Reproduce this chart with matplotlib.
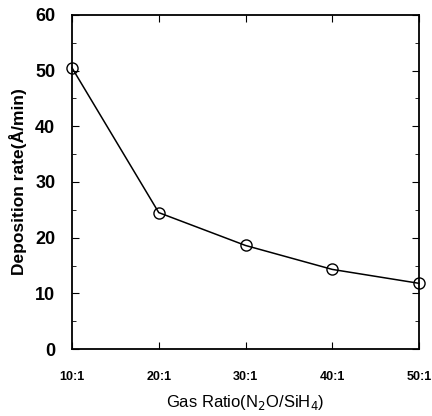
import matplotlib
matplotlib.use("Agg")
import matplotlib.pyplot as plt
from matplotlib.ticker import MultipleLocator

ratios = [10, 20, 30, 40, 50]
tick_labels = ["10:1", "20:1", "30:1", "40:1", "50:1"]
rates = [50.5, 24.5, 18.6, 14.3, 11.8]

plt.rcParams['font.family'] = ['Liberation Sans', 'DejaVu Sans']

fig = plt.figure(figsize=(4.32, 4.16), dpi=100)
ax = fig.add_axes([0.1667, 0.161, 0.8033, 0.803])
ax.plot(ratios, rates, color='black', lw=1.1, marker='o', markersize=8,
        markerfacecolor='none', markeredgecolor='black', markeredgewidth=1.0,
        clip_on=False, zorder=3)
ax.set_xlim(10, 50)
ax.set_ylim(0, 60)
ax.set_xticks(ratios)
ax.set_xticklabels(tick_labels, fontsize=9, fontweight='bold')
ax.yaxis.set_major_locator(MultipleLocator(10))
ax.yaxis.set_minor_locator(MultipleLocator(5))
for lab in ax.get_yticklabels():
    lab.set_fontsize(13)
    lab.set_fontweight('bold')
ax.tick_params(axis='both', which='both', direction='in', top=True, right=True)
ax.tick_params(axis='x', which='major', length=5, pad=16)
ax.tick_params(axis='y', which='major', length=5, pad=12)
ax.tick_params(axis='y', which='minor', length=3)
for s in ax.spines.values():
    s.set_linewidth(1.3)
ax.set_xlabel("Gas Ratio(N$_2$O/SiH$_4$)", fontsize=12, labelpad=7)
ax.set_ylabel("Deposition rate(Å/min)", fontsize=12.5, fontweight='bold', labelpad=6)
fig.savefig("out.png", dpi=100)
